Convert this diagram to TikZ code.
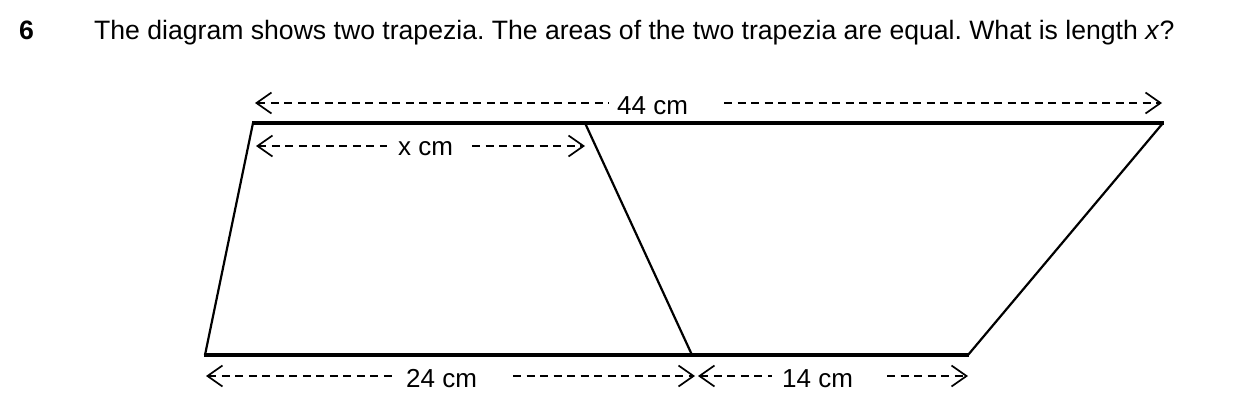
\documentclass[tikz,border=0pt]{standalone}
\usepackage{fontspec}
\setmainfont{Liberation Sans}
\usetikzlibrary{arrows.meta}
\frenchspacing
\tikzset{
  edge/.style={line width=2.2pt, line cap=round, line join=round},
  base/.style={line width=3.6pt},
  dim/.style={line width=1.7pt, dash pattern=on 8pt off 5.5pt},
  lab/.style={inner sep=0pt, anchor=base west, font=\fontsize{26}{30}\selectfont},
  tipL/.style={arrows={Straight Barb[length=15pt,width=21pt]-}},
  tipR/.style={arrows={-Straight Barb[length=15pt,width=21pt]}},
}
\begin{document}
\begin{tikzpicture}[x=1pt,y=-1pt]
\useasboundingbox (0,0) rectangle (1248,416);
% title
\node[lab, font=\fontsize{26.6}{30}\selectfont\bfseries] (num) at (19,39) {6};
\node[lab, font=\fontsize{26.6}{30}\selectfont] (title) at (94,39) {The diagram shows two trapezia. The areas of the two trapezia are equal. What is length \textit{x}?};
% vertices
\coordinate (A) at (253,123);
\coordinate (B) at (585,123);
\coordinate (C) at (1163,123);
\coordinate (D) at (205,355);
\coordinate (E) at (692,355);
\coordinate (F) at (968,355);
% shapes
\draw[base] ([xshift=-1pt]A) -- ([xshift=1pt]C);
\draw[base] ([xshift=-1pt]D) -- ([xshift=1pt]F);
\draw[edge] (A) -- (D);
\draw[edge] (B) -- (E);
\draw[edge] (C) -- (F);
% 44 cm
\coordinate (t44l) at (255,103);
\coordinate (t44r) at (1162,103);
\coordinate (g44l) at (609,103);
\coordinate (g44r) at (724,103);
\node[lab] (l44) at (617,114) {44 cm};
\draw[dim,tipL] (t44l) -- (g44l);
\draw[dim,tipR] (g44r) -- (t44r);
% x cm
\coordinate (txl) at (256,146);
\coordinate (txr) at (585,146);
\coordinate (gxl) at (387,146);
\coordinate (gxr) at (472,146);
\node[lab] (lx) at (398,155) {x cm};
\draw[dim,tipL] (txl) -- (gxl);
\draw[dim,tipR] (gxr) -- (txr);
% 24 cm
\coordinate (t24l) at (206,376);
\coordinate (t24r) at (695,376);
\coordinate (g24l) at (397,376);
\coordinate (g24r) at (513,376);
\node[lab] (l24) at (406,387) {24 cm};
\draw[dim,tipL] (t24l) -- (g24l);
\draw[dim,tipR] (g24r) -- (t24r);
% 14 cm
\coordinate (t14l) at (698,376);
\coordinate (t14r) at (968,376);
\coordinate (g14l) at (772,376);
\coordinate (g14r) at (887,376);
\node[lab] (l14) at (782,387) {14 cm};
\draw[dim,tipL] (t14l) -- (g14l);
\draw[dim,tipR] (g14r) -- (t14r);
\end{tikzpicture}
\end{document}
